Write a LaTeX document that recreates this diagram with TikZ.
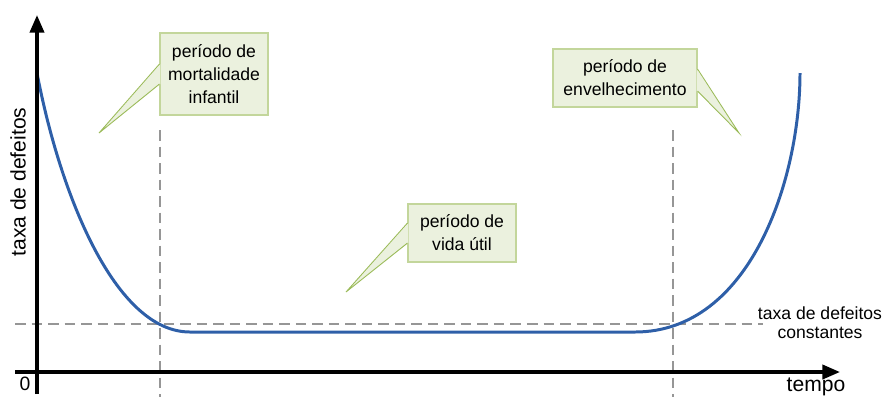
\documentclass[tikz,border=0pt]{standalone}
\usepackage{fontspec}
\setmainfont{Liberation Sans}
\usetikzlibrary{calc, arrows.meta}

\definecolor{curveblue}{RGB}{46,95,168}
\definecolor{notefill}{RGB}{235,241,222}
\definecolor{noteline}{RGB}{195,214,155}
\definecolor{notetip}{RGB}{155,187,89}
\definecolor{guidegray}{RGB}{150,150,150}

\begin{document}
\begin{tikzpicture}[x = 0.02cm, y = -0.02cm,
		axis/.style = {line width = 2pt, -{Triangle[length = 10pt, width = 8pt]}},
		guide/.style = {guidegray, line width = 1.1pt, dash pattern = on 6pt off 3.4pt},
		bathtub/.style = {curveblue, line width = 1.7pt},
		note/.style = {draw = noteline, fill = notefill, line width = 0.6pt, align = center, inner sep = 0pt, font = \fontsize{10}{13}\selectfont},
		pointer/.style = {notetip, line width = 0.5pt}
	]
		\useasboundingbox (0,0) rectangle (884,397);

		\coordinate (O) at (37,372);
		\coordinate (yTop) at (37,15);
		\coordinate (yBot) at (37,394);
		\coordinate (xLeft) at (15,372);
		\coordinate (xRight) at (840,372);

		% linhas de referencia
		\draw [guide] (15,324) -- (763,324);
		\draw [guide] (160,130) -- (160,397);
		\draw [guide] (673,130) -- (673,397);

		% curva da banheira
		\draw [bathtub] (37,73) .. controls (60,194) and (115,332) .. (190,332) -- (635,332) .. controls (750,332) and (800,180) .. (800,73);

		% eixos
		\draw [axis] (yBot) -- (yTop);
		\draw [axis] (xLeft) -- (xRight);

		\node [font = \fontsize{11}{13}\selectfont] (zero) at (25,384) {0};
		\node [font = \fontsize{12}{14}\selectfont] (tempo) at (816,387) {tempo};
		\node [rotate = 90, font = \fontsize{12}{14}\selectfont] (taxa) at (18,182) {taxa de defeitos};
		\node [align = center, font = \fontsize{10}{10.8}\selectfont] (constante) at (820,323) {taxa de defeitos\\constantes};

		% caixas
		\node [note, minimum width = 2.16cm, minimum height = 1.64cm] (infantil) at (214,74) {período de\\mortalidade\\infantil};
		\node [note, minimum width = 2.88cm, minimum height = 1.16cm] (velhice) at (625,78) {período de\\envelhecimento};
		\node [note, minimum width = 2.16cm, minimum height = 1.16cm] (util) at (462,233) {período de\\vida útil};

		\coordinate (tipA) at (99,133);
		\coordinate (tipB) at (739,133);
		\coordinate (tipC) at (346,292);

		\fill [notefill] ($ (infantil.west) + (1,-10) $) -- (tipA) -- ($ (infantil.west) + (1,10) $) -- cycle;
		\draw [pointer] ($ (infantil.west) + (0,-10) $) -- (tipA) -- ($ (infantil.west) + (0,10) $);

		\fill [notefill] ($ (velhice.east) + (-1,-9) $) -- (tipB) -- ($ (velhice.east) + (-1,13) $) -- cycle;
		\draw [pointer] ($ (velhice.east) + (0,-9) $) -- (tipB) -- ($ (velhice.east) + (0,13) $);

		\fill [notefill] ($ (util.west) + (1,-10) $) -- (tipC) -- ($ (util.west) + (1,10) $) -- cycle;
		\draw [pointer] ($ (util.west) + (0,-10) $) -- (tipC) -- ($ (util.west) + (0,10) $);
	\end{tikzpicture}
\end{document}
